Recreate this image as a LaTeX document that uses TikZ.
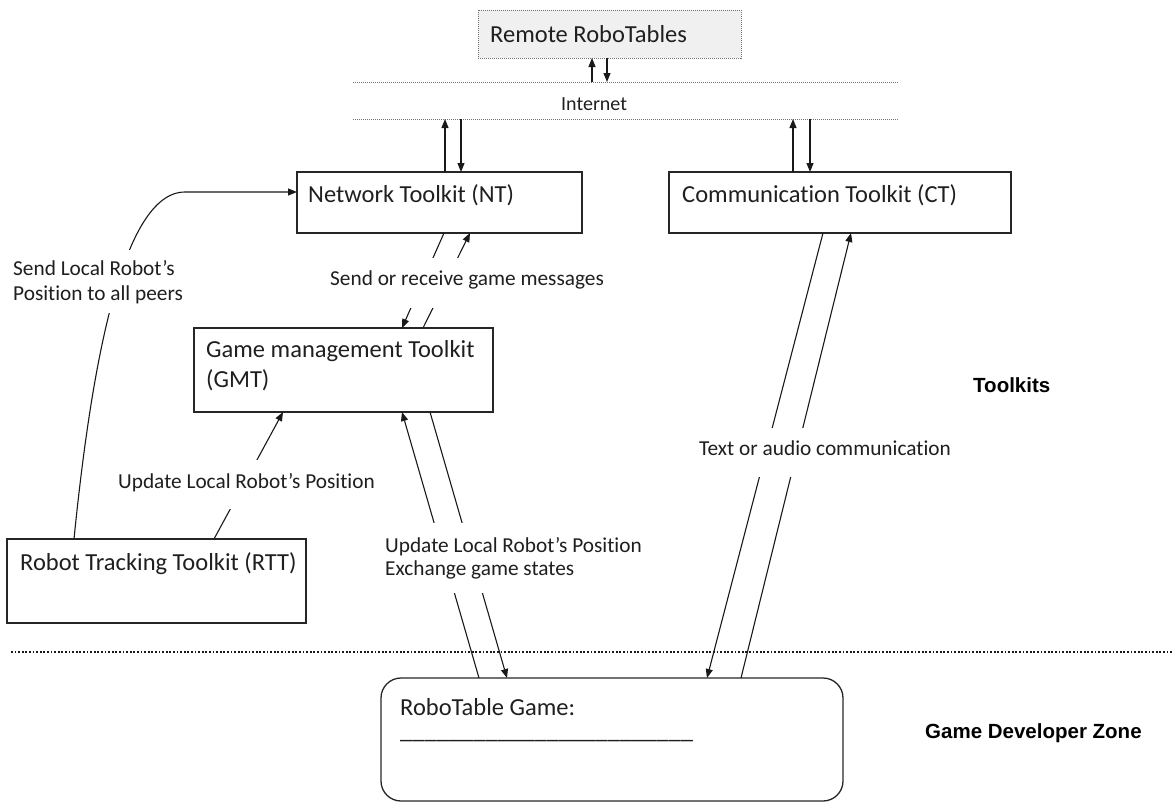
\documentclass[tikz,border=0pt]{standalone}
\usepackage{fontspec}
\setmainfont{Carlito}[Ligatures=NoCommon]
\newfontfamily\zonefont{Liberation Sans}
\usetikzlibrary{arrows.meta,calc}

\begin{document}
\begin{tikzpicture}[x=1pt,y=-1pt,
  box/.style={draw=black!85, line width=1.3pt, rectangle, inner sep=0pt, outer sep=0pt, anchor=north west},
  remotebox/.style={box, draw=black!55, fill=black!6, line width=1pt, dash pattern=on 1pt off 1pt},
  boxtext/.style={anchor=base west, inner sep=0pt, font=\fontsize{24.5}{29}\selectfont, text=black!88},
  lbl/.style={anchor=base west, inner xsep=3pt, inner ysep=0pt, fill=white, font=\fontsize{21.3}{25}\selectfont, text=black!88},
  zone/.style={anchor=base west, inner sep=0pt, font=\zonefont\bfseries\fontsize{20.5}{24}\selectfont},
  link/.style={line width=1.1pt, draw=black!90},
  tip/.style={link, -{Triangle[length=9pt,width=7pt]}},
  netline/.style={draw=black!55, line width=0.9pt, dash pattern=on 1pt off 1pt},
  zoneline/.style={draw=black!90, line width=2.6pt, dash pattern=on 1.8pt off 1.8pt},
]
\useasboundingbox (0,0) rectangle (1174,803);

% ---------- remote tables and the internet band ----------
\node[remotebox, minimum width=263pt, minimum height=48pt] (remote) at (478,10) {};
\node[boxtext] (remotetxt) at ($(remote.north west)+(12,32)$) {Remote RoboTables};

\coordinate (inetTL) at (353,82);  \coordinate (inetTR) at (899,82);
\coordinate (inetBL) at (353,119); \coordinate (inetBR) at (899,119);
\draw[netline] (inetTL) -- (inetTR);
\draw[netline] (inetBL) -- (inetBR);
\node[anchor=base west, inner sep=0pt, font=\fontsize{20}{24}\selectfont, text=black!88] (inet) at (561,110) {Internet};

% ---------- toolkit boxes ----------
\node[box, minimum width=285pt, minimum height=61pt] (nt) at (297,172) {};
\node[boxtext] (nttxt) at ($(nt.north west)+(11,30)$) {Network Toolkit (NT)};

\node[box, minimum width=342pt, minimum height=61pt] (ct) at (669,172) {};
\node[boxtext] (cttxt) at ($(ct.north west)+(13,30)$) {Communication Toolkit (CT)};

\node[box, minimum width=299pt, minimum height=84pt] (gmt) at (194,328) {};
\node[boxtext] (gmttxt1) at ($(gmt.north west)+(12,29)$) {Game management Toolkit};
\node[boxtext] (gmttxt2) at ($(gmt.north west)+(12,59)$) {(GMT)};

\node[box, minimum width=299pt, minimum height=84pt] (rtt) at (7,539) {};
\node[boxtext] (rtttxt) at ($(rtt.north west)+(13,31)$) {Robot Tracking Toolkit (RTT)};

% ---------- game box ----------
\node[box, rounded corners=20pt, minimum width=462pt, minimum height=123pt] (rt) at (381,678) {};
\node[boxtext] (rttxt) at ($(rt.north west)+(19,37)$) {RoboTable Game:};
\node[boxtext] (rtblank) at ($(rt.north west)+(19,60)$) {\_\_\_\_\_\_\_\_\_\_\_\_\_\_\_\_\_\_\_\_\_\_\_\_};

% ---------- zone separator and zone names ----------
\coordinate (sepL) at (11,652); \coordinate (sepR) at (1174,652);
\draw[zoneline] (sepL) -- (sepR);
\node[zone] (tk) at (973,392) {Toolkits};
\node[zone] (gdz) at (925,738) {Game Developer Zone};

% ---------- links to the internet ----------
\coordinate (rUp) at ($(remote.south west)+(114,0)$);
\coordinate (rDn) at ($(remote.south west)+(129,0)$);
\draw[tip] (rUp |- inetTL) -- (rUp);
\draw[tip] (rDn) -- (rDn |- inetTL);

\coordinate (ntUp) at ($(nt.north west)+(148,0)$);
\coordinate (ntDn) at ($(nt.north west)+(164,0)$);
\draw[tip] (ntUp) -- (ntUp |- inetBL);
\draw[tip] (ntDn |- inetBL) -- (ntDn);

\coordinate (ctUp) at ($(ct.north west)+(124,0)$);
\coordinate (ctDn) at ($(ct.north west)+(141,0)$);
\draw[tip] (ctUp) -- (ctUp |- inetBL);
\draw[tip] (ctDn |- inetBL) -- (ctDn);

% ---------- links between toolkits ----------
\draw[tip] ($(nt.south west)+(147,0)$) -- ($(gmt.north west)+(208,0)$);
\draw[tip] ($(gmt.north west)+(229,0)$) -- ($(nt.south west)+(173,0)$);

\draw[tip] ($(rtt.north west)+(207,0)$) -- ($(gmt.south west)+(89,0)$);

\coordinate (ntIn) at ($(nt.north west)+(0,20)$);
\coordinate (rttOut) at ($(rtt.north west)+(67,0)$);
\coordinate (bend) at ($(ntIn)+(-112,0)$);
\draw[tip] (rttOut) .. controls +(16,-159) and +(-65,0) .. (bend) -- (ntIn);

\draw[tip] ($(rt.north west)+(98,0)$) -- ($(gmt.south west)+(208,0)$);
\draw[tip] ($(gmt.south west)+(236,0)$) -- ($(rt.north west)+(126,0)$);

\draw[tip] ($(ct.south west)+(154,0)$) -- ($(rt.north west)+(326,0)$);
\draw[tip] ($(rt.north west)+(360,0)$) -- ($(ct.south west)+(182,0)$);

% ---------- link labels (white backing breaks the lines) ----------
\node[lbl, text height=27pt, text depth=23pt] (msg) at (327,285) {Send or receive game messages};
\node[lbl, text height=28pt, text depth=21pt] (upd1) at (115,488) {Update Local Robot’s Position};
\node[lbl, text height=25pt, text depth=6pt] (peers1) at (10,275) {Send Local Robot’s};
\node[lbl, text height=19pt, text depth=13pt] (peers2) at (10,300) {Position to all peers};
\node[lbl, text height=29pt, text depth=11pt] (upd2) at (382,552) {Update Local Robot’s Position};
\node[lbl, text height=12pt, text depth=18pt] (xchg) at (382,575) {Exchange game states};
\node[lbl, text height=27pt, text depth=22pt] (talk) at (696,455) {Text or audio communication};

\end{tikzpicture}
\end{document}
